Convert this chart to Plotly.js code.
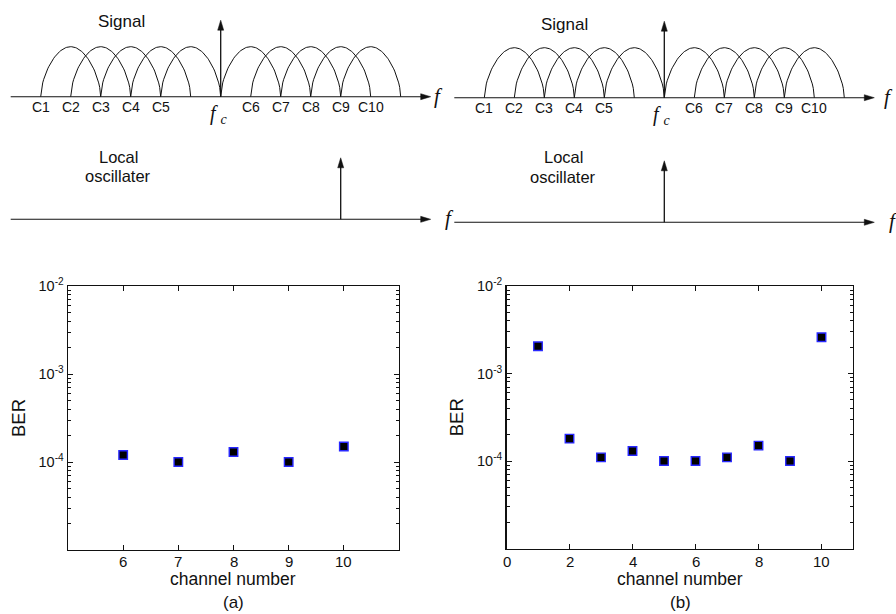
<!DOCTYPE html>
<html><head><meta charset="utf-8">
<script src="https://cdn.plot.ly/plotly-3.0.1.min.js"></script>
<style>html,body{margin:0;padding:0;background:#fff}#chart{width:896px;height:614px}</style>
</head><body><div id="chart"></div>
<script>
// ---------- measured data: BER vs channel number ----------
const channelsA = [6, 7, 8, 9, 10];
const berA = [1.2e-4, 1.0e-4, 1.3e-4, 1.0e-4, 1.5e-4];
const channelsB = [1, 2, 3, 4, 5, 6, 7, 8, 9, 10];
const berB = [2.05e-3, 1.8e-4, 1.1e-4, 1.3e-4, 1.0e-4, 1.0e-4, 1.1e-4, 1.5e-4, 1.0e-4, 2.6e-3];
const xTicksA = [6, 7, 8, 9, 10];
const xTicksB = [0, 2, 4, 6, 8, 10];
const yTickVals = [1e-4, 1e-3, 1e-2];
const yTickText = ['10<sup>-4</sup>', '10<sup>-3</sup>', '10<sup>-2</sup>'];
const minorMantissas = [2, 3, 4, 5, 6, 7, 8, 9];
const minorDecades = [1e-5, 1e-4, 1e-3];

// ---------- spectrum sketch (units: half channel spacing, relative to fc) ----------
const arcStarts = [-6, -5, -4, -3, -2, 0, 1, 2, 3, 4];
const arcSpan = 2;
const channelLabels = ['C1', 'C2', 'C3', 'C4', 'C5', 'C6', 'C7', 'C8', 'C9', 'C10'];
const channelLabelPos = [-6, -5, -4, -3, -2, 1, 2, 3, 4, 5];
const loPosA = 4;
const loPosB = 0;
const freqAxisEnds = [-7, 7];
const carrierArrowHeight = 1.53;
const loArrowHeight = 1.23;

const FONT = 'Liberation Sans, Arial, Helvetica, sans-serif';
const SERIF = 'Liberation Serif, Times New Roman, serif';
const INK = '#111';

const minorVals = [];
minorDecades.forEach(d => minorMantissas.forEach(m => minorVals.push(m * d)));

const traces = [];
const annotations = [];

// arrowhead size in axis units: x 30px/unit, y 50px/unit
const HX = 10 / 30, HWX = 3 / 30, HY = 10 / 50, HWY = 3 / 50;

function lineTrace(x, y, xa, ya, w) {
  traces.push({x, y, xaxis: xa, yaxis: ya, mode: 'lines', type: 'scatter',
    line: {color: INK, width: w || 1}, hoverinfo: 'skip', showlegend: false});
}
function headTrace(x, y, xa, ya) {
  traces.push({x, y, xaxis: xa, yaxis: ya, mode: 'lines', type: 'scatter', fill: 'toself',
    fillcolor: INK, line: {color: INK, width: 0.5}, hoverinfo: 'skip', showlegend: false});
}
function freqAxis(xa, ya, fShift) {
  const x1 = freqAxisEnds[1];
  lineTrace([freqAxisEnds[0], x1 - HX * 0.8], [0, 0], xa, ya, 1.1);
  headTrace([x1 - HX, x1, x1 - HX, x1 - HX], [HWY, 0, -HWY, HWY], xa, ya);
  annotations.push({x: x1, y: 0, xref: xa, yref: ya, xanchor: 'left', yanchor: 'middle',
    xshift: fShift, yshift: 1, showarrow: false,
    text: '<i>f</i>', font: {family: SERIF, size: 21, color: INK}});
}
function upArrow(u, h, xa, ya) {
  lineTrace([u, u], [0, h - HY * 0.8], xa, ya, 1.3);
  headTrace([u - HWX, u, u + HWX, u - HWX], [h - HY, h, h - HY, h - HY], xa, ya);
}
function signalSketch(xa, ya) {
  const ax = [], ay = [];
  arcStarts.forEach(s => {
    for (let i = 0; i <= 60; i++) {
      const t = i / 60;
      ax.push(s + arcSpan * t);
      ay.push(Math.pow(Math.sin(Math.PI * t), 0.57));
    }
    ax.push(null); ay.push(null);
  });
  lineTrace(ax, ay, xa, ya, 1);
  channelLabels.forEach((lab, i) => {
    annotations.push({x: channelLabelPos[i], y: 0, xref: xa, yref: ya, yanchor: 'top', xanchor: 'center',
      yshift: 0, showarrow: false, text: lab, font: {family: FONT, size: 14, color: INK}});
  });
  annotations.push({x: 0, y: 0, xref: xa, yref: ya, yanchor: 'top', xanchor: 'center',
    xshift: -2, yshift: -3, showarrow: false,
    text: '<i>f</i> <sub><i>c</i></sub>', font: {family: SERIF, size: 20, color: INK}});
}

// ---------- top sketches ----------
signalSketch('x3', 'y3');
freqAxis('x3', 'y3', 1);
upArrow(0, carrierArrowHeight, 'x3', 'y3');
freqAxis('x3', 'y4', 12);
upArrow(loPosA, loArrowHeight, 'x3', 'y4');

signalSketch('x4', 'y5');
freqAxis('x4', 'y5', 8);
upArrow(0, carrierArrowHeight, 'x4', 'y5');
freqAxis('x4', 'y6', 13);
upArrow(loPosB, loArrowHeight, 'x4', 'y6');

// ---------- BER scatter ----------
const marker = {symbol: 'square', size: 8.5, color: '#000', line: {color: 'rgb(40,40,255)', width: 1.4}};
traces.push({x: channelsA, y: berA, xaxis: 'x', yaxis: 'y', type: 'scatter', mode: 'markers',
  marker, showlegend: false});
traces.push({x: channelsB, y: berB, xaxis: 'x2', yaxis: 'y2', type: 'scatter', mode: 'markers',
  marker, showlegend: false});

function px(v) { return v / 896; }
function py(v) { return 1 - v / 614; }

const commonX = {ticks: 'inside', ticklen: 5, tickwidth: 1, tickcolor: INK, showline: true,
  linecolor: INK, linewidth: 1.4, mirror: 'ticks', showgrid: false, zeroline: false,
  showticklabels: false, tickmode: 'array'};
const commonY = {ticks: 'inside', ticklen: 5, tickwidth: 1, tickcolor: INK, showline: true,
  linecolor: INK, linewidth: 1.4, mirror: 'ticks', showgrid: false, zeroline: false,
  type: 'log', range: [-5, -2], tickmode: 'array',
  tickvals: yTickVals, ticktext: yTickText, tickfont: {family: FONT, size: 14.5, color: INK},
  minor: {tickmode: 'array', tickvals: minorVals, ticks: 'inside', ticklen: 3, tickcolor: INK, tickwidth: 1},
  title: {text: 'BER', font: {family: FONT, size: 18.5, color: INK}, standoff: 8}};

// x tick labels, placed through each x axis scale just below the frame
function xTickLabels(vals, xref, yPx) {
  vals.forEach(v => annotations.push({x: v, xref, y: py(yPx), yref: 'paper', xanchor: 'center',
    yanchor: 'middle', showarrow: false, text: String(v), font: {family: FONT, size: 15, color: INK}}));
}
xTickLabels(xTicksA, 'x', 561);
xTickLabels(xTicksB, 'x2', 561);

const hidden = {visible: false, showgrid: false, zeroline: false, fixedrange: true};

function paperText(x, y, text, size) {
  annotations.push({x: px(x), y: py(y), xref: 'paper', yref: 'paper', xanchor: 'center',
    yanchor: 'middle', showarrow: false, text, font: {family: FONT, size, color: INK}});
}
paperText(121.7, 21, 'Signal', 17);
paperText(564.7, 24, 'Signal', 17);
paperText(118, 156.5, 'Local', 16.5);
paperText(118, 175.5, 'oscillater', 16.5);
paperText(563, 156.5, 'Local', 16.5);
paperText(563, 176.5, 'oscillater', 16.5);
paperText(233, 579, 'channel number', 17.5);
paperText(680, 579, 'channel number', 17.5);
paperText(233, 602, '(a)', 17);
paperText(680, 602, '(b)', 17);

const rangeA = [5, 11], rangeB = [0, 11];
const layout = {
  width: 896, height: 614, margin: {l: 0, r: 0, t: 0, b: 0},
  paper_bgcolor: '#fff', plot_bgcolor: 'rgba(0,0,0,0)', showlegend: false,
  font: {family: FONT, color: INK},
  xaxis: Object.assign({}, commonX, {domain: [px(68), px(399)], range: rangeA, tickvals: xTicksA, anchor: 'y'}),
  yaxis: Object.assign({}, commonY, {domain: [py(550), py(286)], anchor: 'x'}),
  xaxis2: Object.assign({}, commonX, {domain: [px(506.5), px(853)], range: rangeB, tickvals: xTicksB, anchor: 'y2'}),
  yaxis2: Object.assign({}, commonY, {domain: [py(548.5), py(286)], anchor: 'x2'}),
  xaxis3: Object.assign({}, hidden, {domain: [0, 0.5], range: [-220.7 / 30, 227.3 / 30], anchor: 'y3'}),
  xaxis4: Object.assign({}, hidden, {domain: [0.5, 1], range: [-216.3 / 30, 231.7 / 30], anchor: 'y5'}),
  yaxis3: Object.assign({}, hidden, {domain: [py(130), 1], range: [-33.3 / 50, 96.7 / 50], anchor: 'x3'}),
  yaxis4: Object.assign({}, hidden, {domain: [py(250), py(130)], range: [-30.7 / 50, 89.3 / 50], anchor: 'x3'}),
  yaxis5: Object.assign({}, hidden, {domain: [py(130), 1], range: [-32.3 / 50, 97.7 / 50], anchor: 'x4'}),
  yaxis6: Object.assign({}, hidden, {domain: [py(250), py(130)], range: [-27.7 / 50, 92.3 / 50], anchor: 'x4'}),
  annotations
};

Plotly.newPlot('chart', traces, layout, {staticPlot: true, displayModeBar: false});
</script></body></html>
